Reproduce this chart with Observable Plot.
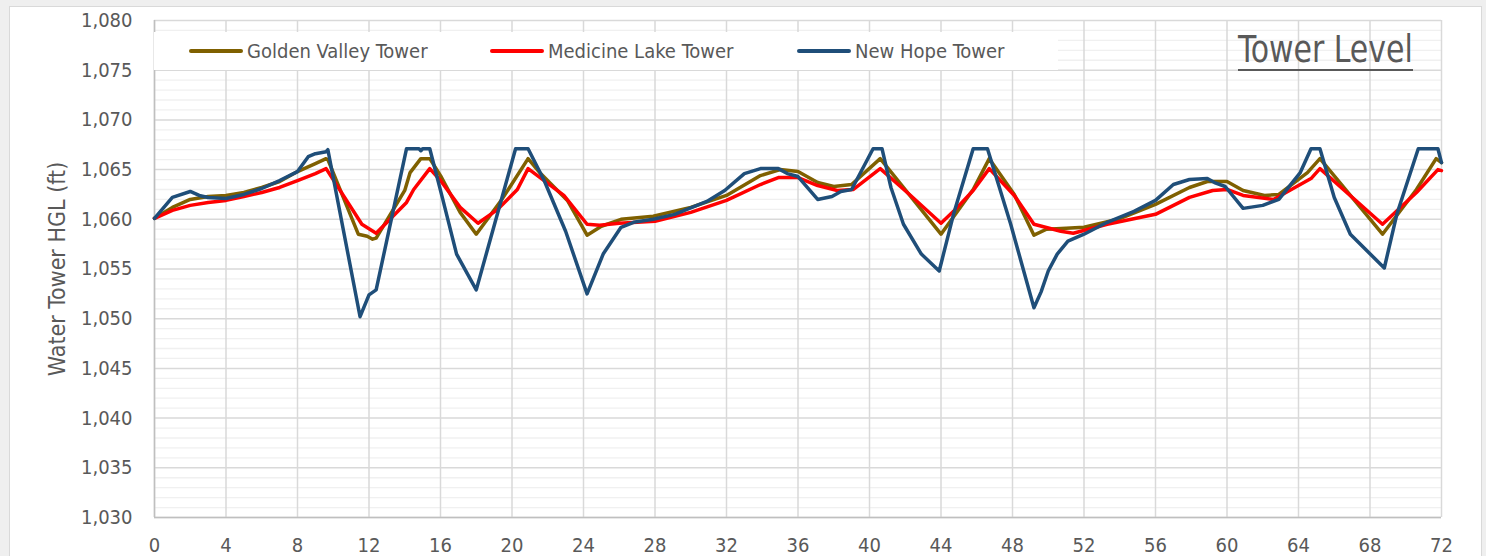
<!DOCTYPE html>
<html>
<head>
<meta charset="utf-8">
<script src="https://cdn.jsdelivr.net/npm/d3@7"></script>
<script src="https://cdn.jsdelivr.net/npm/@observablehq/plot@0.6"></script>
<style>
  html, body { margin: 0; padding: 0; background: #efefef; width: 1486px; height: 556px; overflow: hidden; }
  #frame { position: absolute; left: 9px; top: 6px; width: 1473px; height: 560px; background: #fff; border: 1px solid #d9d9d9; box-sizing: border-box; }
  #chart { position: absolute; left: 0; top: 0; }
  .nf { font-family: "Liberation Sans Narrow", "Arial Narrow", "DejaVu Sans Condensed", sans-serif; color: #595959; }
  #legend { position: absolute; left: 154px; top: 32px; width: 904px; height: 38px; background: #fff; }
  .item { position: absolute; top: 0; height: 38px; display: flex; align-items: center; font-size: 20px; white-space: nowrap; }
  .sw { display: inline-block; width: 54px; height: 3.5px; margin-right: 4px; border-radius: 2px; }
  #title { position: absolute; left: 1238px; top: 31px; font-size: 37px; line-height: 37px; white-space: nowrap; transform: scaleX(0.9); transform-origin: 0 0; }
  #uline { position: absolute; left: 1238px; top: 68.5px; width: 175px; height: 2.5px; background: #595959; }
  #chart svg [aria-label="y-axis label"] text { font-size: 23px; }
</style>
</head>
<body>
<div id="frame"></div>
<div id="chart"></div>
<div id="legend"></div>
<div id="title" class="nf">Tower Level</div>
<div id="uline"></div>
<script>
// ---- data ----
const seriesNames = ["Golden Valley Tower", "Medicine Lake Tower", "New Hope Tower"];
const seriesColors = ["#7f6000", "#ff0000", "#1f4e79"];

const gvHours = [0,1,2,3,4,5,6,7,8,9,9.6,9.7,11.4,11.9,12.2,12.4,14,14.3,14.9,15.4,16,17.1,18,19.4,20.9,21.6,23.1,24.2,25,26.1,27.9,30,32,33.9,35,36,37.1,38,39,40.6,44,45.8,46.7,48.1,49.2,49.9,51,52,53.9,56,57.9,58.9,60,60.9,62.1,62.9,64.5,65.2,68.7,70.6,71.7,72];
const gvLevels = [1060.1,1061.2,1062.0,1062.3,1062.4,1062.7,1063.2,1063.8,1064.8,1065.6,1066.1,1066.0,1058.5,1058.3,1058.0,1058.1,1062.9,1064.7,1066.1,1066.1,1064.4,1060.7,1058.5,1061.9,1066.1,1064.6,1061.9,1058.4,1059.3,1060.0,1060.3,1061.2,1062.4,1064.4,1065.0,1064.8,1063.7,1063.3,1063.5,1066.1,1058.5,1063.0,1066.1,1062.5,1058.4,1059.0,1059.1,1059.2,1060.0,1061.5,1063.2,1063.8,1063.8,1062.9,1062.4,1062.5,1064.7,1066.1,1058.5,1063.0,1066.1,1065.7];

const mlHours = [0,1,2,3,4,5,6,7,8,9,9.6,11.6,12.4,14.1,14.5,15.4,16,17.1,18.1,19.2,20.3,20.9,22.9,24.2,24.9,26,28,30,32,33.9,34.9,36,37.1,38.2,39.1,40.6,42.3,44,44.7,45.8,46.7,48.1,49.2,50.7,51.4,53.3,56,57.9,59.2,60,60.9,62.6,64.7,65.2,68.7,70.6,71.8,72];
const mlLevels = [1060.1,1060.9,1061.4,1061.7,1061.9,1062.3,1062.7,1063.2,1063.9,1064.6,1065.1,1059.5,1058.6,1061.7,1063.0,1065.1,1063.9,1061.2,1059.6,1061.0,1063.0,1065.1,1062.4,1059.5,1059.4,1059.6,1059.8,1060.7,1061.9,1063.5,1064.2,1064.2,1063.4,1062.9,1063.0,1065.1,1062.4,1059.6,1060.8,1062.9,1065.1,1062.4,1059.5,1058.8,1058.6,1059.5,1060.5,1062.2,1062.9,1063.0,1062.4,1062.0,1064.1,1065.1,1059.5,1062.7,1065.0,1064.9];

const nhHours = [0,1,2,2.5,3,4,5,6,7,8,8.6,9,9.6,9.7,11.5,12,12.4,14.1,14.8,14.9,15.0,15.4,16.1,16.9,18,20.2,20.9,21.8,23,24.2,25.1,26.1,26.8,27.9,29.1,30.9,31.9,33,33.9,34.9,35.4,36,37.1,37.9,38.4,39,40.2,40.7,41.2,41.9,42.9,43.9,44.7,45.8,46.6,47.9,49.2,49.6,50,50.5,51.1,52,53.3,54.8,56,57,57.9,58.9,59.3,59.9,60.9,62,62.9,64.1,64.7,65.2,66,66.9,68.8,69.5,70.7,71.8,72];
const nhLevels = [1060.1,1062.2,1062.8,1062.4,1062.2,1062.1,1062.5,1063.1,1063.9,1064.8,1066.3,1066.6,1066.8,1067.0,1050.2,1052.4,1052.9,1067.1,1067.1,1066.9,1067.1,1067.1,1062.2,1056.5,1052.9,1067.1,1067.1,1063.9,1058.8,1052.5,1056.5,1059.2,1059.7,1060.0,1060.5,1061.8,1062.9,1064.6,1065.1,1065.1,1064.6,1064.3,1062.0,1062.3,1062.8,1063.0,1067.1,1067.1,1063.2,1059.5,1056.5,1054.8,1060.5,1067.1,1067.1,1059.5,1051.1,1052.7,1054.8,1056.5,1057.8,1058.5,1059.7,1060.8,1061.9,1063.5,1064.0,1064.1,1063.7,1063.3,1061.1,1061.4,1062.0,1064.7,1067.1,1067.1,1062.2,1058.5,1055.1,1060.5,1067.1,1067.1,1065.7];

const xTicks = [0,4,8,12,16,20,24,28,32,36,40,44,48,52,56,60,64,68,72];
const yTicks = [1030,1035,1040,1045,1050,1055,1060,1065,1070,1075,1080];
const yMinor = d3.range(1031, 1080).filter(v => v % 5 !== 0);

// ---- build rows ----
const rows = [];
[[gvHours, gvLevels], [mlHours, mlLevels], [nhHours, nhLevels]].forEach(([h, l], i) => {
  h.forEach((x, j) => rows.push({series: seriesNames[i], hour: x, level: l[j]}));
});

const font = `"Liberation Sans Narrow", "Arial Narrow", "DejaVu Sans Condensed", sans-serif`;

const plot = Plot.plot({
  width: 1486,
  height: 556,
  marginLeft: 154,
  marginRight: 45,
  marginTop: 20,
  marginBottom: 39,
  style: {fontFamily: font, fontSize: "20px", color: "#595959", background: "transparent", overflow: "visible"},
  x: {domain: [0, 72]},
  y: {domain: [1030, 1080]},
  color: {domain: seriesNames, range: seriesColors},
  marks: [
    Plot.ruleY(yMinor, {stroke: "#f0f0f0", strokeWidth: 1.3}),
    Plot.ruleY(yTicks, {stroke: "#d9d9d9", strokeWidth: 1.5}),
    Plot.ruleX(xTicks, {stroke: "#d9d9d9", strokeWidth: 1.5}),
    Plot.ruleX([0], {stroke: "#bfbfbf", strokeWidth: 1.5}),
    Plot.ruleY([1030], {stroke: "#bfbfbf", strokeWidth: 1.5}),
    Plot.axisX({ticks: xTicks, tickSize: 0, tickPadding: 20, label: null, tickFormat: d => String(d), fill: "#595959"}),
    Plot.axisY({ticks: yTicks, tickSize: 0, tickPadding: 22, label: "Water Tower HGL (ft)", labelAnchor: "center", labelArrow: "none", labelOffset: 106, tickFormat: d3.format(","), fill: "#595959"}),
    Plot.line(rows, {x: "hour", y: "level", z: "series", stroke: "series", strokeWidth: 3.5, strokeLinejoin: "round", strokeLinecap: "round"})
  ]
});
document.getElementById("chart").appendChild(plot);

// ---- legend ----
const legend = document.getElementById("legend");
const legendLefts = [35, 336, 643];
seriesNames.forEach((name, i) => {
  const it = document.createElement("div");
  it.className = "item nf";
  it.style.left = legendLefts[i] + "px";
  const sw = document.createElement("span");
  sw.className = "sw";
  sw.style.background = seriesColors[i];
  it.appendChild(sw);
  it.appendChild(document.createTextNode(name));
  legend.appendChild(it);
});
</script>
</body>
</html>
